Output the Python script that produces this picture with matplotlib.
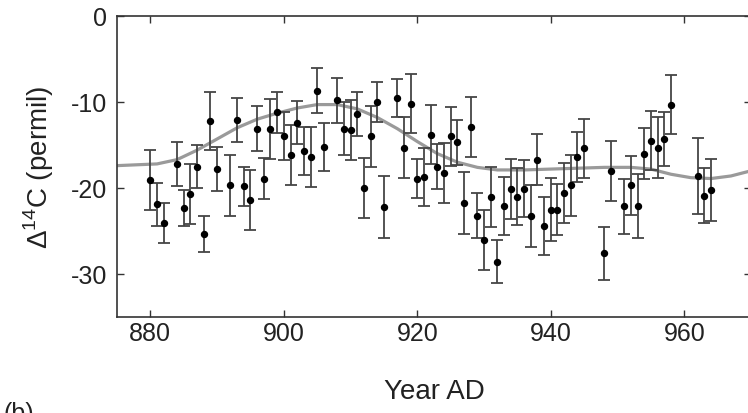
import numpy as np
import matplotlib
matplotlib.use("Agg")
import matplotlib.pyplot as plt

plt.rcParams["font.family"] = ["Liberation Sans", "DejaVu Sans"]
plt.rcParams["mathtext.fontset"] = "custom"
plt.rcParams["mathtext.rm"] = "Liberation Sans"
plt.rcParams["axes.unicode_minus"] = False

# annual measurements (year, delta14C, 1-sigma)
years = [880, 881, 882, 884, 885, 886, 887, 888, 889, 890,
         892, 893, 894, 895, 896, 897, 898, 899, 900, 901,
         902, 903, 904, 905, 906, 908, 909, 910, 911, 912,
         913, 914, 915, 917, 918, 919, 920, 921, 922, 923,
         924, 925, 926, 927, 928, 929, 930, 931, 932, 933,
         934, 935, 936, 937, 938, 939, 940, 941, 942, 943,
         944, 945, 948, 949, 951, 952, 953, 954, 955, 956,
         957, 958, 962, 963, 964]
d14c = [-19.1, -21.9, -24.1, -17.2, -22.3, -20.7, -17.5, -25.3, -12.2, -17.8,
        -19.7, -12.1, -19.8, -21.4, -13.1, -18.9, -13.1, -11.2, -14.0, -16.2,
        -12.4, -15.7, -16.4, -8.7, -15.2, -9.8, -13.1, -13.3, -11.4, -20.0,
        -14.0, -10.0, -22.2, -9.5, -15.3, -10.2, -18.9, -18.7, -13.8, -17.5,
        -18.3, -14.0, -14.7, -21.7, -12.9, -23.2, -26.0, -21.0, -28.6, -22.1,
        -20.1, -21.0, -20.1, -23.3, -16.7, -24.4, -22.5, -22.5, -20.6, -19.7,
        -16.4, -15.4, -27.6, -18.0, -22.1, -19.7, -22.1, -16.0, -14.5, -15.3,
        -14.3, -10.3, -18.6, -20.9, -20.2]
err = [3.5, 2.5, 2.3, 2.6, 2.1, 3.5, 2.5, 2.1, 3.4, 2.6,
       3.5, 2.6, 2.3, 3.5, 2.6, 2.4, 3.5, 2.4, 2.8, 3.5,
       2.5, 2.8, 3.5, 2.6, 2.8, 2.6, 3.1, 3.5, 2.6, 3.5,
       3.5, 2.3, 3.6, 2.2, 3.5, 3.4, 2.3, 3.4, 3.4, 2.6,
       3.5, 3.4, 2.6, 3.6, 3.5, 2.6, 3.5, 3.5, 2.5, 3.4,
       3.5, 3.3, 3.3, 3.6, 3.0, 3.4, 3.7, 3.0, 3.5, 3.5,
       2.9, 3.4, 3.1, 3.5, 3.2, 3.4, 3.7, 3.0, 3.4, 3.5,
       3.1, 3.4, 4.4, 3.2, 3.6]

# smooth model curve
curve_years = [875, 878, 881, 884, 887, 890, 893, 896, 899, 902,
               905, 908, 911, 914, 917, 920, 923, 926, 929, 932,
               936, 940, 944, 948, 952, 955, 958, 961, 964, 967, 970]
curve_vals = [-17.4, -17.3, -17.2, -16.7, -15.6, -14.3, -13.0, -12.0, -11.3, -10.7,
              -10.3, -10.3, -10.8, -11.8, -13.1, -14.6, -16.0, -17.0, -17.6, -17.9,
              -17.9, -17.8, -17.7, -17.6, -17.6, -17.8, -18.4, -18.8, -18.9, -18.6, -18.0]

fig = plt.figure(figsize=(7.48, 4.14), dpi=100)
ax = fig.add_axes([117 / 748, 1 - 318 / 414, (751 - 117) / 748, (318 - 17) / 414])

ax.plot(curve_years, curve_vals, color="#9a9a9a", lw=2.3, zorder=1)
ax.errorbar(years, d14c, yerr=err, fmt="o", color="black", ms=4.3,
            ecolor="#454545", elinewidth=1.3, capsize=4.5, capthick=1.3, zorder=2)

ax.set_xlim(875, 970)
ax.set_ylim(-35, 0)
ax.set_xticks([880, 900, 920, 940, 960])
ax.set_yticks([-30, -20, -10, 0])
ax.tick_params(direction="in", top=True, right=True, labelsize=18, length=5,
               width=1, colors="#333333", labelcolor="#222222")
ax.tick_params(axis="x", pad=3)
ax.tick_params(axis="y", pad=7)
for s in ax.spines.values():
    s.set_color("#333333")
    s.set_linewidth(1.2)

ax.set_xlabel("Year AD", fontsize=20, labelpad=24, color="#222222")
ax.set_ylabel("Δ$^{14}$C (permil)", fontsize=20, labelpad=11, color="#222222")
fig.text(0.005, 0.030, "(b)", fontsize=18, va="top", color="#222222")

fig.savefig("out.png", dpi=100)
